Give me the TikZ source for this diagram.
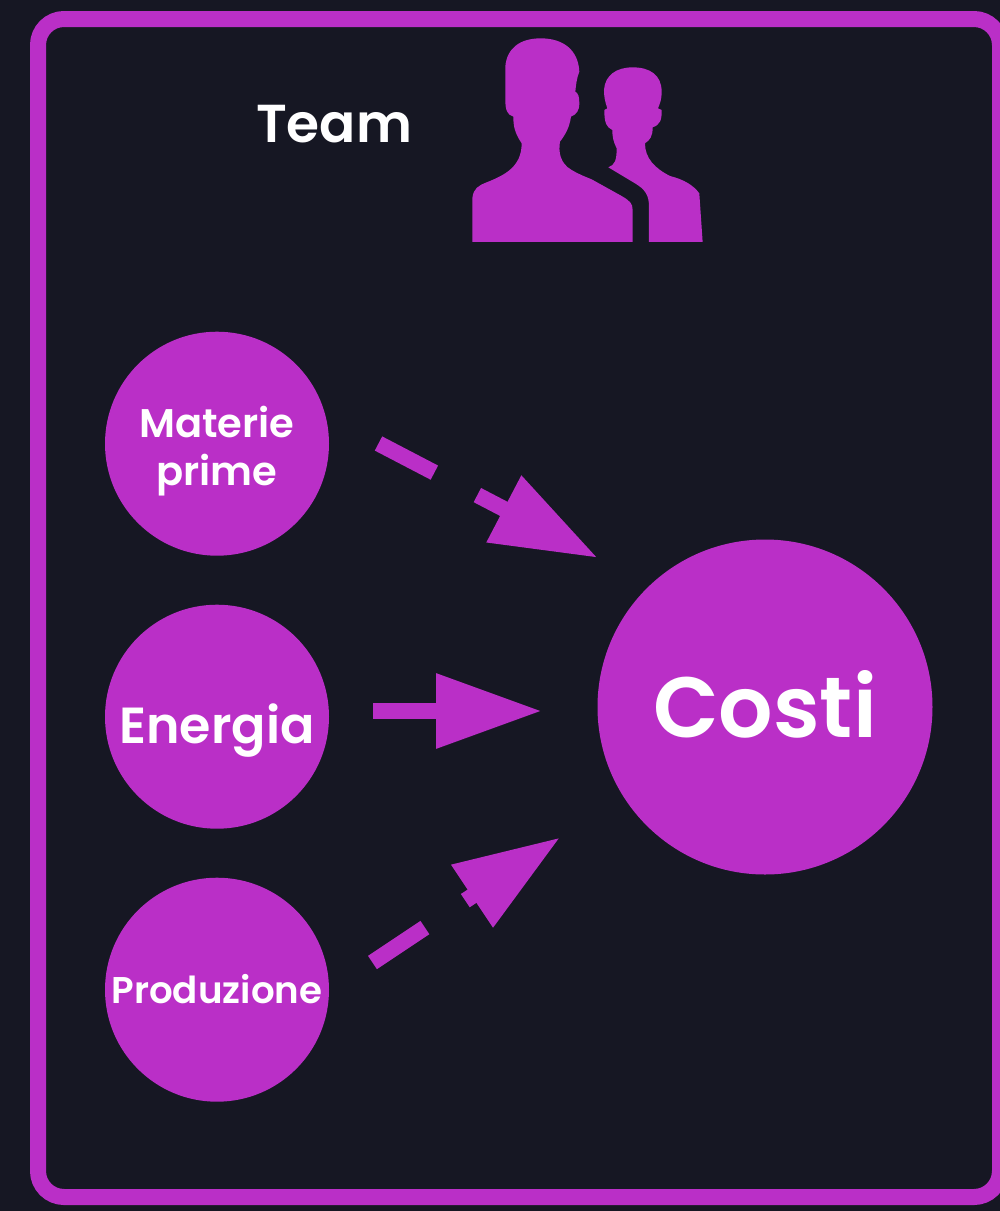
\documentclass[tikz,border=0pt]{standalone}
\usepackage{fontspec}
\setmainfont{Poppins}[UprightFont={* SemiBold},BoldFont={* Bold}]
\usetikzlibrary{arrows.meta}
\definecolor{bgdark}{RGB}{22,23,35}
\definecolor{teampurple}{RGB}{186,47,199}
\newcommand{\droptext}[2]{\raisebox{-#1pt}[0pt][0pt]{#2}}
\tikzset{
  costnode/.style={circle,fill=teampurple,text=white,inner sep=0pt,align=center},
  costarrow/.style={draw=teampurple,line width=16pt,dash pattern=on 63pt off 48.5pt,
    -{Triangle[length=106pt,width=71pt]}},
}
\begin{document}
\begin{tikzpicture}[x=1pt,y=-1pt]

      \useasboundingbox (0,0) rectangle (1000,1211);
      \fill[bgdark] (0,0) rectangle (1000,1211);
      \draw[teampurple,line width=16pt,rounded corners=26pt] (38,19) rectangle (1000,1197);

      \node[text=white,inner sep=0pt,font=\fontsize{53.4}{60}\selectfont] (team) at (334,124.5) {Team};

      % silhouettes
      \begin{scope}[shift={(450,20)},x=.3333pt,y=-.3333pt]
        \fill[teampurple] (67,666) -- (67,535) .. controls (70,505) and (85,497) .. (110,487)
          .. controls (165,465) and (215,440) .. (215,370)
          .. controls (195,340) and (190,320) .. (190,290)
          .. controls (172,285) and (166,270) .. (166,240) -- (166,140)
          .. controls (170,85) and (210,55) .. (272,55)
          .. controls (340,55) and (385,90) .. (388,155)
          .. controls (380,175) and (378,195) .. (376,215)
          .. controls (385,220) and (388,230) .. (388,250)
          .. controls (388,272) and (380,283) .. (363,290)
          .. controls (358,325) and (345,345) .. (330,365)
          .. controls (325,395) and (330,430) .. (365,450)
          .. controls (385,462) and (405,470) .. (425,478) -- (515,528)
          .. controls (540,543) and (548,550) .. (548,570) -- (548,666) -- cycle;
        \fill[teampurple] (597,666) -- (597,560)
          .. controls (597,525) and (585,508) .. (555,490) -- (475,442)
          .. controls (495,435) and (500,420) .. (500,385)
          .. controls (490,365) and (487,350) .. (487,330)
          .. controls (470,322) and (463,310) .. (463,270) -- (472,265)
          .. controls (465,245) and (462,230) .. (462,210)
          .. controls (465,165) and (500,142) .. (548,142)
          .. controls (600,142) and (635,165) .. (635,215)
          .. controls (635,240) and (630,250) .. (624,265) -- (635,270)
          .. controls (636,300) and (630,315) .. (608,322)
          .. controls (608,350) and (600,360) .. (585,370)
          .. controls (585,415) and (615,445) .. (660,468)
          .. controls (700,478) and (730,495) .. (748,520) -- (758,666) -- cycle;
      \end{scope}

      \begin{scope}[every node/.style={costnode,minimum size=224pt}]
        \node[font=\fontsize{40}{48}\selectfont] (materie) at (217,443.7) {\droptext{18}{Materie}\\\droptext{18}{prime}};
        \node[font=\fontsize{50.7}{58}\selectfont] (energia) at (217,716.7) {\droptext{27}{Energia}};
        \node[font=\fontsize{37.2}{44}\selectfont] (produzione) at (217,989.7) {\droptext{13.3}{Produzione}};
      \end{scope}
      \node[costnode,minimum size=335pt,font=\fontsize{85.5}{96}\selectfont] (costi) at (765,707) {\droptext{30.5}{Costi}};

      \coordinate (materieout) at (378.5,443.5);
      \coordinate (materiein)  at (597.8,557.9);
      \coordinate (energiaout) at (373,711);
      \coordinate (energiain)  at (542,711);
      \coordinate (produzioneout) at (372.5,962.5);
      \coordinate (produzionein)  at (560.2,837.4);

      \path[costarrow] (materieout) -- (materiein);
      \path[costarrow] (energiaout) -- (energiain);
      \path[costarrow] (produzioneout) -- (produzionein);

    \end{tikzpicture}
\end{document}
